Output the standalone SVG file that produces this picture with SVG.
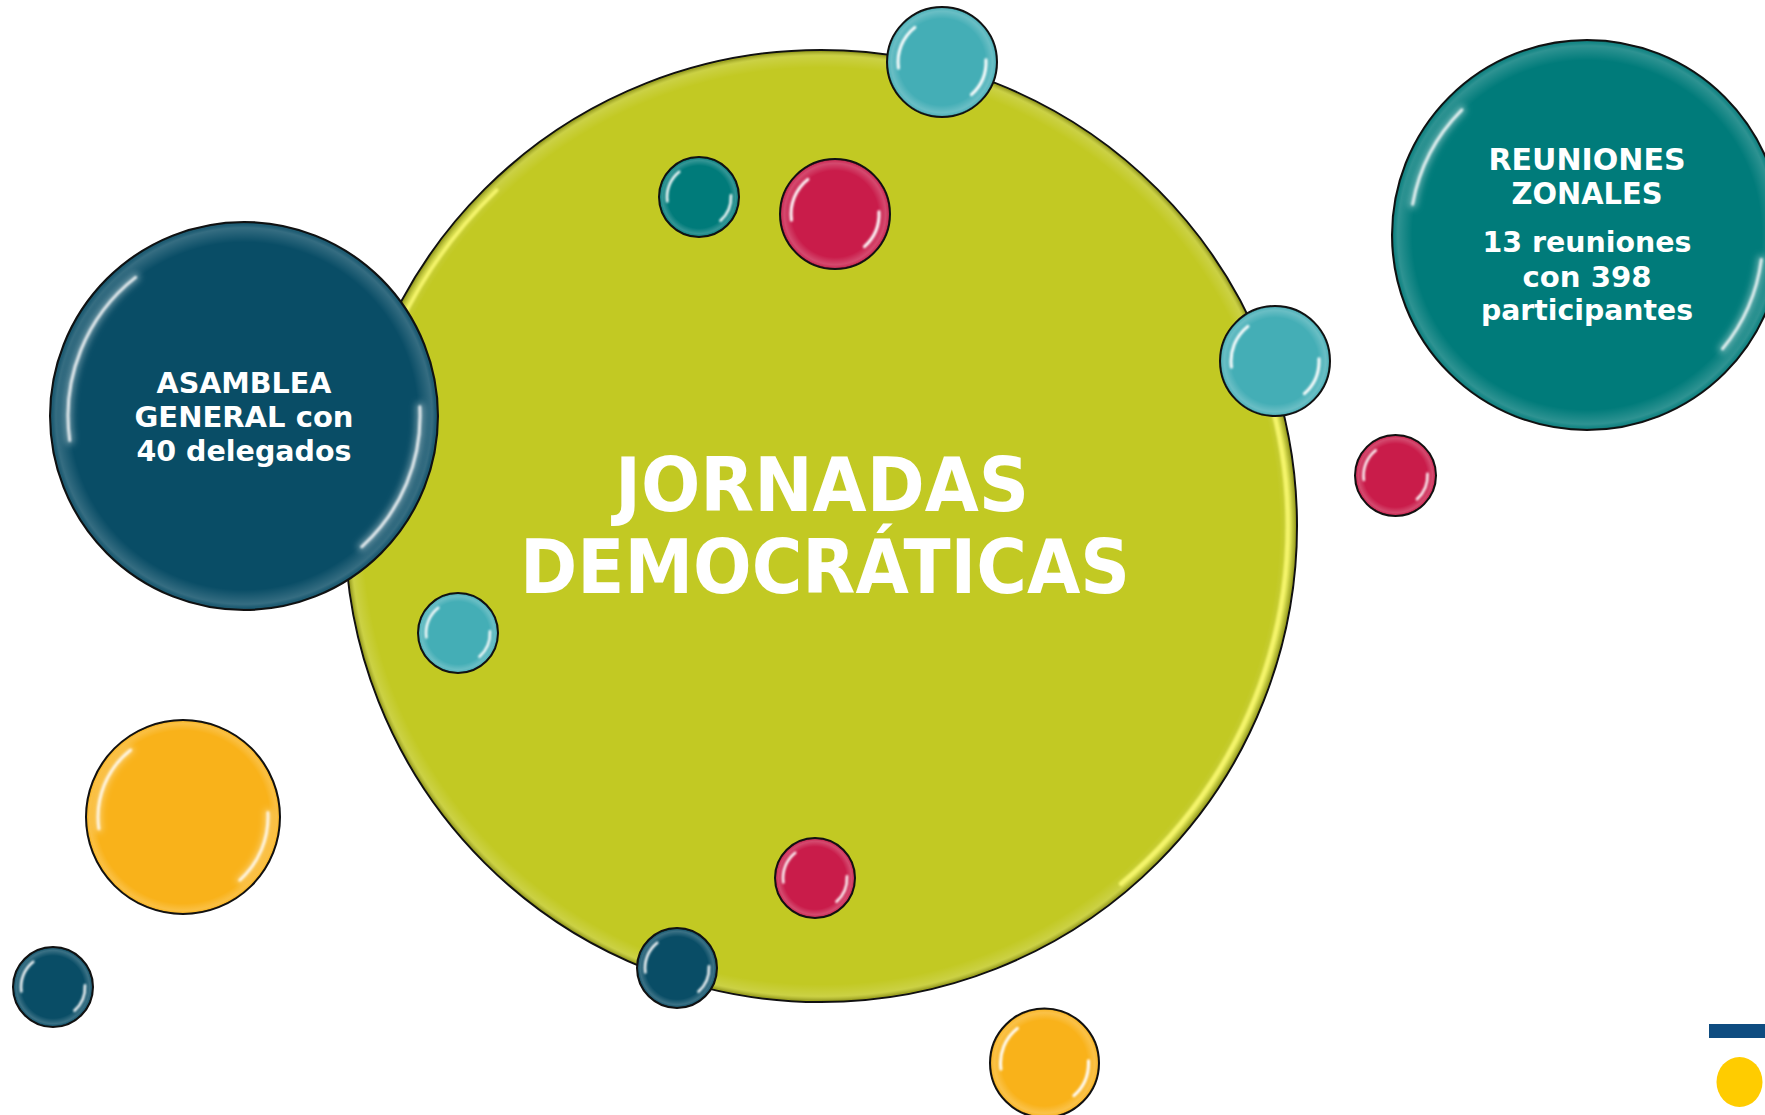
<svg xmlns="http://www.w3.org/2000/svg" width="1765" height="1115" viewBox="0 0 1765 1115">
<defs>
<style>
.ball{stroke:#111;stroke-width:2}
.rim{fill:url(#rim)}
.rimL{fill:url(#rimL)}
.rimG{fill:url(#rimG)}
.hl{fill:none;stroke:#fff;stroke-linecap:round}
.glow{fill:none;stroke:#fff;stroke-linecap:round;opacity:.35}
.t{font-family:'DejaVu Sans',Verdana,sans-serif;font-weight:bold;fill:#fff;text-anchor:middle}
.green{fill:#C2C923}
.navy{fill:#094D66}
.teal{fill:#007B7A}
.cyan{fill:#44AEB6}
.red{fill:#C91C4A}
.orange{fill:#F9B21A}
</style>
<radialGradient id="rim" cx=".5" cy=".5" r=".5">
<stop offset="0" stop-color="#fff" stop-opacity="0"/>
<stop offset=".8" stop-color="#fff" stop-opacity="0"/>
<stop offset=".94" stop-color="#fff" stop-opacity=".2"/>
<stop offset=".985" stop-color="#fff" stop-opacity=".1"/>
<stop offset="1" stop-color="#000" stop-opacity=".3"/>
</radialGradient>
<radialGradient id="rimL" cx=".5" cy=".5" r=".5">
<stop offset="0" stop-color="#fff" stop-opacity="0"/>
<stop offset=".9" stop-color="#fff" stop-opacity="0"/>
<stop offset=".975" stop-color="#fff" stop-opacity=".18"/>
<stop offset=".993" stop-color="#fff" stop-opacity=".08"/>
<stop offset="1" stop-color="#000" stop-opacity=".3"/>
</radialGradient>
<radialGradient id="rimG" cx=".5" cy=".5" r=".5">
<stop offset="0" stop-color="#fff" stop-opacity="0"/>
<stop offset=".965" stop-color="#fff" stop-opacity="0"/>
<stop offset=".99" stop-color="#fff" stop-opacity=".15"/>
<stop offset="1" stop-color="#000" stop-opacity=".25"/>
</radialGradient>
<filter id="soft" x="-20%" y="-20%" width="140%" height="140%"><feGaussianBlur stdDeviation="0.8"/></filter>
<filter id="soft2" x="-10%" y="-10%" width="120%" height="120%"><feGaussianBlur stdDeviation="1.3"/></filter>
<filter id="soft3" x="-20%" y="-20%" width="140%" height="140%"><feGaussianBlur stdDeviation="3"/></filter>
<path id="arcs" vector-effect="non-scaling-stroke" d="M-0.990 0.139 A1 1 0 0 1 -0.616 -0.788 M0.999 -0.052 A1 1 0 0 1 0.669 0.743"/>
<path id="arcsS" vector-effect="non-scaling-stroke" d="M-0.985 -0.174 A1 1 0 0 1 -0.707 -0.707 M0.985 0.139 A1 1 0 0 1 0.766 0.643"/>
</defs>

<rect width="1765" height="1115" fill="#fff"/>

<g id="connectors"/>

<g id="jornadas">
<circle class="ball green" cx="821" cy="526" r="476"/>
<circle class="rimG" cx="821" cy="526" r="475"/>
<g filter="url(#soft2)" fill="none" stroke="#F4F46A" stroke-linecap="round">
<path d="M1265.1 381.7 A467 467 0 0 1 1121.3 883.7" stroke-width="5"/>
<path d="M397.8 328.5 A467 467 0 0 1 496.5 190.2" stroke-width="4"/>
</g>
<text class="t" font-size="74" x="822" y="511" textLength="414" lengthAdjust="spacingAndGlyphs">JORNADAS</text>
<text class="t" font-size="74" x="825" y="593" textLength="610" lengthAdjust="spacingAndGlyphs">DEMOCRÁTICAS</text>
</g>

<g id="asamblea">
<circle class="ball navy" cx="244" cy="416" r="194"/>
<circle class="rimL" cx="244" cy="416" r="193"/>
<g filter="url(#soft3)"><use href="#arcs" class="glow" transform="translate(244 416) scale(176)" style="stroke-width:9"/></g>
<g filter="url(#soft)"><use href="#arcs" class="hl" transform="translate(244 416) scale(176)" style="stroke-width:3;opacity:.85"/></g>
<text class="t" font-size="29" x="244" y="393" textLength="175" lengthAdjust="spacingAndGlyphs">ASAMBLEA</text>
<text class="t" font-size="29" x="244" y="427" textLength="219" lengthAdjust="spacingAndGlyphs">GENERAL con</text>
<text class="t" font-size="29" x="244" y="461" textLength="215" lengthAdjust="spacingAndGlyphs">40 delegados</text>
</g>

<g id="reuniones">
<circle class="ball teal" cx="1587" cy="235" r="195"/>
<circle class="rimL" cx="1587" cy="235" r="194"/>
<g filter="url(#soft3)"><use href="#arcsS" class="glow" transform="translate(1587 235) scale(177)" style="stroke-width:9"/></g>
<g filter="url(#soft)"><use href="#arcsS" class="hl" transform="translate(1587 235) scale(177)" style="stroke-width:3;opacity:.85"/></g>
<text class="t" font-size="30" x="1587" y="170" textLength="197" lengthAdjust="spacingAndGlyphs">REUNIONES</text>
<text class="t" font-size="30" x="1587" y="204" textLength="151" lengthAdjust="spacingAndGlyphs">ZONALES</text>
<text class="t" font-size="29" x="1587" y="252" textLength="209" lengthAdjust="spacingAndGlyphs">13 reuniones</text>
<text class="t" font-size="29" x="1587" y="287" textLength="129" lengthAdjust="spacingAndGlyphs">con 398</text>
<text class="t" font-size="29" x="1587" y="320" textLength="212" lengthAdjust="spacingAndGlyphs">participantes</text>
</g>

<g id="bubble-cyan-top">
<circle class="ball cyan" cx="942" cy="62" r="55"/>
<circle class="rim" cx="942" cy="62" r="54"/>
<g filter="url(#soft)"><use href="#arcs" class="hl" transform="translate(942 62) scale(44)" style="stroke-width:3"/></g>
</g>

<g id="bubble-teal-small">
<circle class="ball teal" cx="699" cy="197" r="40"/>
<circle class="rim" cx="699" cy="197" r="39"/>
<g filter="url(#soft)"><use href="#arcs" class="hl" transform="translate(699 197) scale(32)" style="stroke-width:2.5"/></g>
</g>

<g id="bubble-red-top">
<circle class="ball red" cx="835" cy="214" r="55"/>
<circle class="rim" cx="835" cy="214" r="54"/>
<g filter="url(#soft)"><use href="#arcs" class="hl" transform="translate(835 214) scale(44)" style="stroke-width:3"/></g>
</g>

<g id="bubble-cyan-right">
<circle class="ball cyan" cx="1275" cy="361" r="55"/>
<circle class="rim" cx="1275" cy="361" r="54"/>
<g filter="url(#soft)"><use href="#arcs" class="hl" transform="translate(1275 361) scale(44)" style="stroke-width:3"/></g>
</g>

<g id="bubble-red-right">
<circle class="ball red" cx="1395.5" cy="475.5" r="40.5"/>
<circle class="rim" cx="1395.5" cy="475.5" r="39.5"/>
<g filter="url(#soft)"><use href="#arcs" class="hl" transform="translate(1395.5 475.5) scale(32)" style="stroke-width:2.5"/></g>
</g>

<g id="bubble-cyan-left">
<circle class="ball cyan" cx="458" cy="633" r="40"/>
<circle class="rim" cx="458" cy="633" r="39"/>
<g filter="url(#soft)"><use href="#arcs" class="hl" transform="translate(458 633) scale(32)" style="stroke-width:2.5"/></g>
</g>

<g id="bubble-orange-left">
<circle class="ball orange" cx="183" cy="817" r="97"/>
<circle class="rimL" cx="183" cy="817" r="96"/>
<g filter="url(#soft3)"><use href="#arcs" class="glow" transform="translate(183 817) scale(85)" style="stroke-width:7"/></g>
<g filter="url(#soft)"><use href="#arcs" class="hl" transform="translate(183 817) scale(85)" style="stroke-width:3;opacity:.85"/></g>
</g>

<g id="bubble-navy-corner">
<circle class="ball navy" cx="53" cy="987" r="40"/>
<circle class="rim" cx="53" cy="987" r="39"/>
<g filter="url(#soft)"><use href="#arcs" class="hl" transform="translate(53 987) scale(32)" style="stroke-width:2.5"/></g>
</g>

<g id="bubble-red-bottom">
<circle class="ball red" cx="815" cy="878" r="40"/>
<circle class="rim" cx="815" cy="878" r="39"/>
<g filter="url(#soft)"><use href="#arcs" class="hl" transform="translate(815 878) scale(32)" style="stroke-width:2.5"/></g>
</g>

<g id="bubble-navy-bottom">
<circle class="ball navy" cx="677" cy="968" r="40"/>
<circle class="rim" cx="677" cy="968" r="39"/>
<g filter="url(#soft)"><use href="#arcs" class="hl" transform="translate(677 968) scale(32)" style="stroke-width:2.5"/></g>
</g>

<g id="bubble-orange-bottom">
<circle class="ball orange" cx="1044.5" cy="1063" r="54.5"/>
<circle class="rim" cx="1044.5" cy="1063" r="53.5"/>
<g filter="url(#soft)"><use href="#arcs" class="hl" transform="translate(1044.5 1063) scale(44)" style="stroke-width:3"/></g>
</g>

<g id="corner-mark">
<rect x="1709" y="1024" width="56" height="14" fill="#0E4C80"/>
<ellipse cx="1739.5" cy="1082" rx="23" ry="25" fill="#FFCC00"/>
</g>
</svg>
